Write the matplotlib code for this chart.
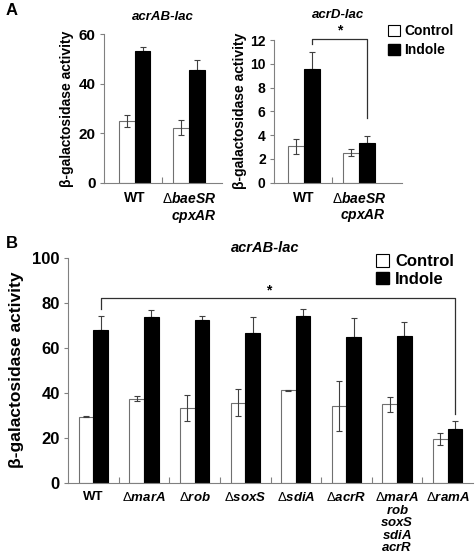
import numpy as np
import matplotlib
matplotlib.use("Agg")
import matplotlib.pyplot as plt
from matplotlib.patches import Patch

plt.rcParams['font.family'] = ['Liberation Sans', 'DejaVu Sans']
plt.rcParams['mathtext.fontset'] = 'custom'
plt.rcParams['mathtext.rm'] = 'Liberation Sans'
plt.rcParams['mathtext.it'] = 'Liberation Sans:italic:bold'
plt.rcParams['mathtext.bf'] = 'Liberation Sans:bold'

# Panel A, acrAB-lac
a1_labels = ['WT', '$\\Delta\\mathit{baeSR}$\n$\\mathit{cpxAR}$']
a1_ctrl = [24.9, 22.2]
a1_ctrl_err = [2.3, 3.0]
a1_ind = [53.3, 45.5]
a1_ind_err = [1.3, 3.9]

# Panel A, acrD-lac
a2_labels = ['WT', '$\\Delta\\mathit{baeSR}$\n$\\mathit{cpxAR}$']
a2_ctrl = [3.05, 2.52]
a2_ctrl_err = [0.65, 0.33]
a2_ind = [9.55, 3.33]
a2_ind_err = [1.4, 0.62]

# Panel B, acrAB-lac
b_labels = ['WT', '$\\Delta\\mathit{marA}$', '$\\Delta\\mathit{rob}$', '$\\Delta\\mathit{soxS}$',
            '$\\Delta\\mathit{sdiA}$', '$\\Delta\\mathit{acrR}$',
            '$\\Delta\\mathit{marA}$\n$\\mathit{rob}$\n$\\mathit{soxS}$\n$\\mathit{sdiA}$\n$\\mathit{acrR}$',
            '$\\Delta\\mathit{ramA}$']
b_ctrl = [29.3, 37.4, 33.1, 35.5, 41.0, 34.0, 34.8, 19.5]
b_ctrl_err = [0.2, 1.1, 5.8, 6.0, 0.3, 11.0, 3.3, 2.7]
b_ind = [68.0, 73.6, 72.5, 66.7, 74.1, 64.7, 65.2, 24.0]
b_ind_err = [6.3, 3.3, 1.5, 7.0, 3.2, 8.6, 6.4, 3.5]

W, H = 475, 556
fig = plt.figure(figsize=(W / 100, H / 100), dpi=100)

def px_axes(x0, x1, ytop, ybot):
    return fig.add_axes([x0 / W, 1 - ybot / H, (x1 - x0) / W, (ybot - ytop) / H])

spine_c = '#808080'
err_c = '#404040'
bw = 0.29


def draw_bars(ax, labels, ctrl, cerr, ind, ierr, xlim, ylim, yticks, ytick_fs, xlab_fs, ma, ls):
    x = np.arange(len(labels))
    ax.bar(x - bw / 2, ctrl, bw, color='white', edgecolor='#707070', linewidth=0.8, zorder=2)
    ax.bar(x + bw / 2, ind, bw, color='black', edgecolor='black', linewidth=0.8, zorder=2)
    ax.errorbar(x - bw / 2, ctrl, yerr=cerr, fmt='none', ecolor=err_c, elinewidth=0.8,
                capsize=2.2, capthick=0.8, zorder=3)
    ax.errorbar(x + bw / 2, ind, yerr=[np.zeros(len(ind)), ierr], fmt='none', ecolor=err_c,
                elinewidth=0.8, capsize=2.2, capthick=0.8, zorder=1)
    ax.set_xlim(*xlim)
    ax.set_ylim(*ylim)
    ax.set_yticks(yticks)
    for s in ['top', 'right']:
        ax.spines[s].set_visible(False)
    for s in ['left', 'bottom']:
        ax.spines[s].set_color(spine_c)
        ax.spines[s].set_linewidth(0.8)
    ax.tick_params(axis='y', direction='out', length=3, color=spine_c, labelsize=ytick_fs, pad=3)
    for t in ax.get_yticklabels():
        t.set_fontweight('bold')
    # boundary ticks pointing in, labels at group centres
    ax.set_xticks(np.arange(len(labels) - 1) + 0.5)
    ax.set_xticklabels([])
    ax.tick_params(axis='x', which='major', direction='in', length=4, color=spine_c)
    ax.set_xticks(x, minor=True)
    ax.set_xticklabels(labels, minor=True, fontsize=xlab_fs, fontweight='bold',
                       multialignment=ma, linespacing=ls)
    ax.tick_params(axis='x', which='minor', length=0, pad=6)
    return x


# Panel A left
ax1 = px_axes(104, 222, 34, 183)
draw_bars(ax1, a1_labels, a1_ctrl, a1_ctrl_err, a1_ind, a1_ind_err,
          (-0.56, 1.6), (0, 60), [0, 20, 40, 60], 11, 10, 'right', 1.1)
ax1.set_ylabel('β-galactosidase activity', fontsize=10, fontweight='bold', labelpad=3)
ax1.set_title('acrAB-lac', fontsize=9.5, fontweight='bold', style='italic', pad=10)

# Panel A right
ax2 = px_axes(274, 402, 40, 182.5)
draw_bars(ax2, a2_labels, a2_ctrl, a2_ctrl_err, a2_ind, a2_ind_err,
          (-0.55, 1.78), (0, 12), [0, 2, 4, 6, 8, 10, 12], 10, 10, 'right', 1.1)
ax2.set_ylabel('β-galactosidase activity', fontsize=10, fontweight='bold', labelpad=2)
ax2.set_title('acrD-lac', fontsize=9.5, fontweight='bold', style='italic', pad=16)
# significance bracket
bx = [0 + bw / 2, 0 + bw / 2, 1 + bw / 2, 1 + bw / 2]
by = [11.7, 12.05, 12.05, 5.4]
ax2.plot(bx, by, color='#303030', lw=0.9, clip_on=False)
ax2.text(0.64, 12.25, '*', ha='center', va='bottom', fontsize=10, fontweight='bold')

fig.legend([Patch(facecolor='white', edgecolor='black', lw=0.8), Patch(facecolor='black', edgecolor='black')],
           ['Control', 'Indole'], loc='upper left', bbox_to_anchor=(388 / W, 1 - 24 / H),
           frameon=False, handlelength=0.85, handleheight=0.85, handletextpad=0.3,
           labelspacing=0.35, borderpad=0, borderaxespad=0, prop={'weight': 'bold', 'size': 10})

# Panel B
ax3 = px_axes(68, 473, 257.7, 482.7)
draw_bars(ax3, b_labels, b_ctrl, b_ctrl_err, b_ind, b_ind_err,
          (-0.5, 7.5), (0, 100), [0, 20, 40, 60, 80, 100], 12, 9.5, 'center', 0.95)
ax3.set_ylabel('β-galactosidase activity', fontsize=12.5, fontweight='bold', labelpad=6)
ax3.text(3.4, 101, 'acrAB-lac', ha='center', va='bottom', fontsize=10.5, fontweight='bold', style='italic')
bx = [0 + bw / 2, 0 + bw / 2, 7 + bw / 2, 7 + bw / 2]
by = [77, 82.2, 82.2, 30.5]
ax3.plot(bx, by, color='#303030', lw=0.9)
ax3.text(3.47, 82.4, '*', ha='center', va='bottom', fontsize=10, fontweight='bold')

fig.legend([Patch(facecolor='white', edgecolor='black', lw=0.8), Patch(facecolor='black', edgecolor='black')],
           ['Control', 'Indole'], loc='upper left', bbox_to_anchor=(376 / W, 1 - 254 / H),
           frameon=False, handlelength=0.8, handleheight=0.8, handletextpad=0.35,
           labelspacing=0.15, borderpad=0, borderaxespad=0, prop={'weight': 'bold', 'size': 12})

fig.text(6 / W, 1 - 3 / H, 'A', fontsize=12, fontweight='bold', va='top')
fig.text(6 / W, 1 - 236 / H, 'B', fontsize=12, fontweight='bold', va='top')

fig.savefig('out.png', dpi=100)
